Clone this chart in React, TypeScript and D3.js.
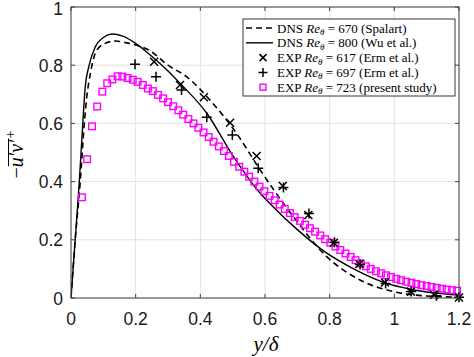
import React, { useLayoutEffect, useRef, useState } from 'react';
import * as d3 from 'd3';

const xTicks = [0, 0.2, 0.4, 0.6, 0.8, 1, 1.2];
const yTicks = [0, 0.2, 0.4, 0.6, 0.8, 1];
const xTickLabels = ['0', '0.2', '0.4', '0.6', '0.8', '1', '1.2'];
const yTickLabels = ['0', '0.2', '0.4', '0.6', '0.8', '1'];

// DNS Re=670 (Spalart) - dashed
const spalartX = [0, 0.013, 0.029, 0.042, 0.049, 0.06, 0.075, 0.1, 0.137, 0.18, 0.244, 0.3, 0.358, 0.43, 0.512, 0.585, 0.688, 0.791, 0.894, 0.997, 1.1, 1.2];
const spalartY = [0, 0.2, 0.405, 0.612, 0.692, 0.772, 0.841, 0.872, 0.883, 0.875, 0.85, 0.8, 0.76, 0.68, 0.566, 0.44, 0.279, 0.142, 0.062, 0.022, 0.007, 0.003];

// DNS Re=800 (Wu) - solid
const wuX = [0, 0.013, 0.026, 0.037, 0.044, 0.055, 0.075, 0.1, 0.127, 0.16, 0.2, 0.245, 0.3, 0.337, 0.42, 0.5, 0.585, 0.615, 0.7, 0.79, 0.88, 0.977, 1.05, 1.12, 1.2];
const wuY = [0, 0.2, 0.405, 0.61, 0.725, 0.795, 0.863, 0.895, 0.907, 0.9, 0.875, 0.835, 0.78, 0.738, 0.635, 0.49, 0.36, 0.325, 0.235, 0.155, 0.097, 0.05, 0.03, 0.018, 0.01];

// EXP Re=617 (Erm) - x markers
const erm617X = [0.257, 0.337, 0.411, 0.492, 0.574, 0.655, 0.734, 0.813, 0.892, 0.971, 1.051, 1.123, 1.2];
const erm617Y = [0.812, 0.732, 0.69, 0.602, 0.488, 0.385, 0.285, 0.19, 0.117, 0.053, 0.022, 0.01, 0.002];

// EXP Re=697 (Erm) - + markers
const erm697X = [0.198, 0.263, 0.342, 0.42, 0.499, 0.579, 0.657, 0.736, 0.815, 0.894, 0.973, 1.052, 1.13, 1.2];
const erm697Y = [0.803, 0.76, 0.715, 0.621, 0.56, 0.446, 0.38, 0.29, 0.192, 0.115, 0.05, 0.022, 0.008, 0.003];

// EXP Re=723 (present study) - magenta squares
const presentX = [0.034, 0.05, 0.065, 0.081, 0.097, 0.112, 0.128, 0.144, 0.159, 0.175, 0.191, 0.206, 0.222, 0.238, 0.253, 0.269, 0.285, 0.3, 0.316, 0.332, 0.347, 0.363, 0.379, 0.394, 0.41, 0.426, 0.441, 0.457, 0.473, 0.488, 0.504, 0.52, 0.536, 0.551, 0.567, 0.583, 0.598, 0.614, 0.63, 0.645, 0.661, 0.677, 0.692, 0.708, 0.724, 0.739, 0.755, 0.771, 0.786, 0.802, 0.818, 0.833, 0.849, 0.865, 0.88, 0.896, 0.912, 0.927, 0.943, 0.959, 0.974, 0.99, 1.006, 1.021, 1.037, 1.053, 1.068, 1.084, 1.1, 1.115, 1.131, 1.147, 1.162, 1.178, 1.194];
const presentY = [0.346, 0.477, 0.59, 0.658, 0.709, 0.738, 0.751, 0.762, 0.761, 0.756, 0.75, 0.743, 0.732, 0.72, 0.711, 0.698, 0.686, 0.673, 0.659, 0.645, 0.63, 0.615, 0.6, 0.585, 0.569, 0.553, 0.537, 0.521, 0.505, 0.488, 0.468, 0.451, 0.434, 0.417, 0.4, 0.383, 0.367, 0.351, 0.336, 0.321, 0.306, 0.292, 0.278, 0.265, 0.252, 0.24, 0.228, 0.215, 0.202, 0.19, 0.177, 0.165, 0.153, 0.141, 0.13, 0.119, 0.109, 0.1, 0.092, 0.085, 0.078, 0.072, 0.066, 0.061, 0.056, 0.052, 0.048, 0.044, 0.041, 0.038, 0.035, 0.032, 0.029, 0.027, 0.025];

const legendLabels = [
  { pre: 'DNS ', num: ' = 670 (Spalart)' },
  { pre: 'DNS ', num: ' = 800 (Wu et al.)' },
  { pre: 'EXP ', num: ' = 617 (Erm et al.)' },
  { pre: 'EXP ', num: ' = 697 (Erm et al.)' },
  { pre: 'EXP ', num: ' = 723 (present study)' },
];

const W = 474, H = 357;
const L = 71, R = 459, T = 7, B = 298;
const MAGENTA = '#ff00ff';
const AXIS = '#404040';
const GRID = '#e3e3e3';

const Cross = ({ x, y, s = 4 }: { x: number; y: number; s?: number }) => (
  <path d={`M${x - s},${y - s}L${x + s},${y + s}M${x - s},${y + s}L${x + s},${y - s}`} stroke="#000" strokeWidth={1.5} fill="none" />
);
const Plus = ({ x, y, s = 5 }: { x: number; y: number; s?: number }) => (
  <path d={`M${x - s},${y}L${x + s},${y}M${x},${y - s}L${x},${y + s}`} stroke="#000" strokeWidth={1.5} fill="none" />
);
const Square = ({ x, y, s = 3.3 }: { x: number; y: number; s?: number }) => (
  <rect x={x - s} y={y - s} width={2 * s} height={2 * s} stroke={MAGENTA} strokeWidth={1.4} fill="none" />
);

const YLabel = () => {
  const minusRef = useRef<SVGTextElement>(null);
  const uvRef = useRef<SVGTextElement>(null);
  const [w, setW] = useState({ m: 12, uv: 24 });
  useLayoutEffect(() => {
    const m = minusRef.current ? minusRef.current.getComputedTextLength() : 12;
    const uv = uvRef.current ? uvRef.current.getComputedTextLength() : 24;
    setW({ m, uv });
  }, []);
  const total = w.m + w.uv + 8;
  const x0 = -total / 2;
  return (
    <g transform="translate(23,155) rotate(-90)" fontFamily="'Liberation Serif', serif" fontSize={20}>
      <text ref={minusRef} x={x0} y={0}>−</text>
      <text ref={uvRef} x={x0 + w.m} y={0} fontStyle="italic">u′v′</text>
      <line x1={x0 + w.m + 1} x2={x0 + w.m + w.uv + 1} y1={-14.5} y2={-14.5} stroke="#000" strokeWidth={1} />
      <text x={x0 + w.m + w.uv + 1} y={-8} fontSize={14}>+</text>
    </g>
  );
};

export default function App() {
  const x = d3.scaleLinear().domain([0, 1.2]).range([L, R]);
  const y = d3.scaleLinear().domain([0, 1]).range([B, T]);
  const line = d3.line<[number, number]>().x(d => x(d[0])).y(d => y(d[1])).curve(d3.curveMonotoneX);
  const spalart = spalartX.map((v, i) => [v, spalartY[i]] as [number, number]);
  const wu = wuX.map((v, i) => [v, wuY[i]] as [number, number]);

  const lgL = 243, lgR = 455, lgT = 19, lgB = 96;
  const rowY = (i: number) => 28 + i * 14.8;
  const lineX0 = 246, lineX1 = 273, markX = 263, textX = 277;

  return (
    <svg width={W} height={H} style={{ position: 'absolute', left: 0, top: 0, background: '#fff' }} fontFamily="'Liberation Sans', Arial, sans-serif">
      <rect x={0} y={0} width={W} height={H} fill="#fff" />
      {/* grid */}
      {xTicks.map((t, i) => (
        <line key={'gx' + i} x1={x(t)} x2={x(t)} y1={T} y2={B} stroke={GRID} strokeWidth={1} />
      ))}
      {yTicks.map((t, i) => (
        <line key={'gy' + i} x1={L} x2={R} y1={y(t)} y2={y(t)} stroke={GRID} strokeWidth={1} />
      ))}
      <defs>
        <clipPath id="plotclip">
          <rect x={L} y={T - 10} width={R - L + 10} height={B - T + 10} />
        </clipPath>
      </defs>
      <g clipPath="url(#plotclip)">
        <path d={line(spalart) || ''} fill="none" stroke="#000" strokeWidth={1.6} strokeDasharray="6,4" />
        <path d={line(wu) || ''} fill="none" stroke="#000" strokeWidth={1.4} />
      </g>
      {presentX.map((v, i) => <Square key={'p' + i} x={x(v)} y={y(presentY[i])} />)}
      {erm617X.map((v, i) => <Cross key={'c' + i} x={x(v)} y={y(erm617Y[i])} />)}
      {erm697X.map((v, i) => <Plus key={'a' + i} x={x(v)} y={y(erm697Y[i])} />)}

      {/* axes box */}
      <rect x={L} y={T} width={R - L} height={B - T} fill="none" stroke={AXIS} strokeWidth={1} />
      {xTicks.map((t, i) => (
        <g key={'tx' + i}>
          <line x1={x(t)} x2={x(t)} y1={B} y2={B - 4} stroke={AXIS} />
          <line x1={x(t)} x2={x(t)} y1={T} y2={T + 4} stroke={AXIS} />
          <text x={x(t)} y={325} textAnchor="middle" fontSize={17.5} fill="#1a1a1a">{xTickLabels[i]}</text>
        </g>
      ))}
      {yTicks.map((t, i) => (
        <g key={'ty' + i}>
          <line x1={L} x2={L + 4} y1={y(t)} y2={y(t)} stroke={AXIS} />
          <line x1={R} x2={R - 4} y1={y(t)} y2={y(t)} stroke={AXIS} />
          <text x={63} y={Math.max(y(t) + 6.5, 15)} textAnchor="end" fontSize={17.5} fill="#1a1a1a">{yTickLabels[i]}</text>
        </g>
      ))}

      {/* x label */}
      <text x={266} y={351} textAnchor="middle" fontFamily="'Liberation Serif', serif" fontStyle="italic" fontSize={21}>
        y/δ
      </text>
      {/* y label */}
      <YLabel />

      {/* legend */}
      <rect x={lgL} y={lgT} width={lgR - lgL} height={lgB - lgT} fill="#fff" stroke="#222" strokeWidth={0.9} />
      <line x1={lineX0} x2={lineX1} y1={rowY(0)} y2={rowY(0)} stroke="#000" strokeWidth={1.6} strokeDasharray="6,4" />
      <line x1={lineX0} x2={lineX1} y1={rowY(1)} y2={rowY(1)} stroke="#000" strokeWidth={1.4} />
      <Cross x={markX} y={rowY(2)} s={3.5} />
      <Plus x={markX} y={rowY(3)} s={4.5} />
      <Square x={markX} y={rowY(4)} s={3} />
      {legendLabels.map((lab, i) => (
        <text key={'lg' + i} x={textX} y={rowY(i) + 4.5} fontFamily="'Liberation Serif', serif" fontSize={13} fill="#000">
          <tspan>{lab.pre}</tspan>
          <tspan fontStyle="italic">Re</tspan>
          <tspan fontStyle="italic" fontSize={9} dy={2.5}>θ</tspan>
          <tspan dy={-2.5}>{lab.num}</tspan>
        </text>
      ))}
    </svg>
  );
}
